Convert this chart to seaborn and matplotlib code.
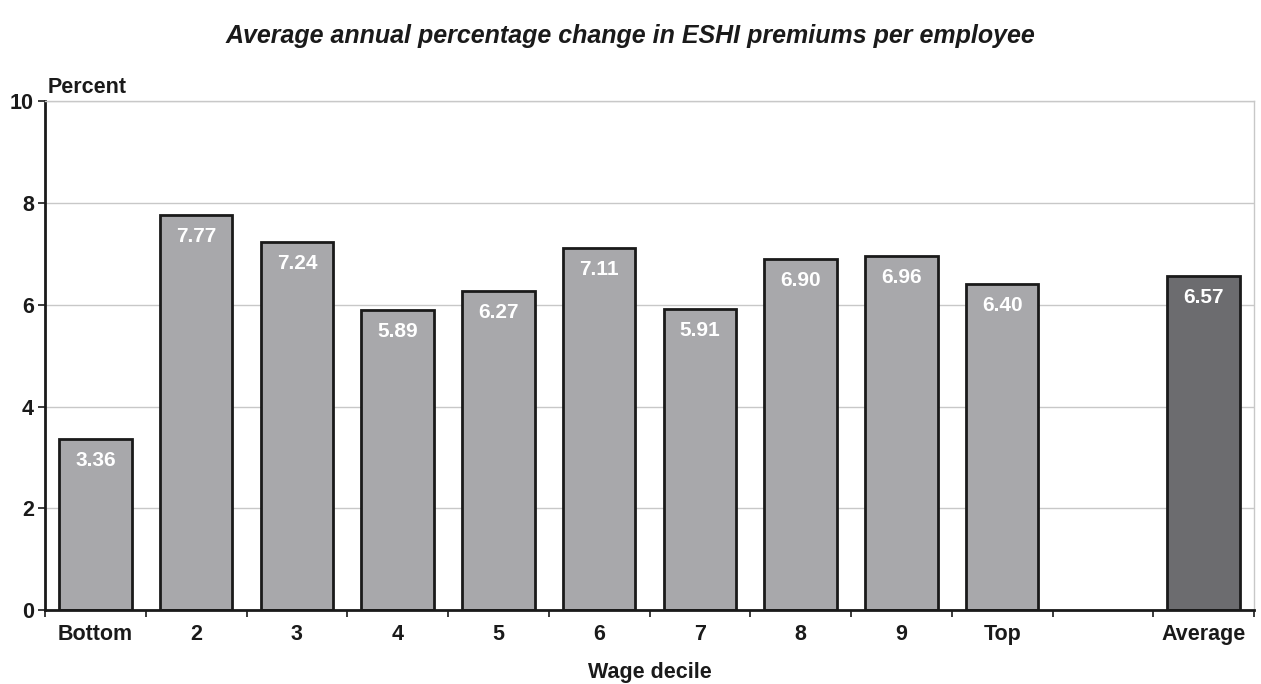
import numpy as np
import pandas as pd
import matplotlib
matplotlib.use('Agg')
import matplotlib.pyplot as plt
import seaborn as sns

# Data
deciles = ['Bottom', '2', '3', '4', '5', '6', '7', '8', '9', 'Top', ' ', 'Average']
premium_change = [3.36, 7.77, 7.24, 5.89, 6.27, 7.11, 5.91, 6.90, 6.96, 6.40, np.nan, 6.57]
bar_colors = ['#a7a8ac'] * 10 + ['#ffffff', '#6b6c70']

df = pd.DataFrame({'decile': deciles, 'change': premium_change})

sns.set_style('white')
plt.rcParams['font.family'] = ['Liberation Sans', 'DejaVu Sans']
plt.rcParams['text.color'] = '#1a1a1a'
plt.rcParams['xtick.color'] = '#1a1a1a'
plt.rcParams['ytick.color'] = '#1a1a1a'
plt.rcParams['axes.labelcolor'] = '#1a1a1a'

fig = plt.figure(figsize=(12.61, 6.84), dpi=100)
ax = fig.add_axes([0.0357, 0.108, 0.9588, 0.744])

sns.barplot(data=df, x='decile', y='change', hue='decile', order=deciles,
            palette=dict(zip(deciles, bar_colors)), legend=False,
            width=0.72, edgecolor='#1a1a1a', linewidth=2, ax=ax)

# value labels inside the bars
for i, v in enumerate(premium_change):
    if np.isnan(v):
        continue
    ax.annotate(f'{v:.2f}', (i, v), xytext=(0, -15.5), textcoords='offset points',
                ha='center', va='center', color='white', fontsize=15, fontweight='bold')

ax.set_ylim(0, 10)
ax.set_xlim(-0.5, len(deciles) - 0.5)
ax.set_yticks([0, 2, 4, 6, 8, 10])
ax.yaxis.grid(True, color='#c8c8c8', linewidth=1)
ax.set_axisbelow(True)

ax.tick_params(axis='x', which='major', bottom=False, length=0, labelsize=15.5, pad=10)
ax.set_xticks(np.arange(-0.5, len(deciles)), minor=True)
ax.tick_params(axis='x', which='minor', bottom=True, length=5, width=1.2, direction='out')
ax.tick_params(axis='y', left=True, length=5, width=1.2, direction='out', labelsize=15.5, pad=3)
for lbl in ax.get_xticklabels() + ax.get_yticklabels():
    lbl.set_fontweight('bold')

for s in ['left', 'bottom']:
    ax.spines[s].set_color('#1a1a1a')
    ax.spines[s].set_linewidth(2)
for s in ['top', 'right']:
    ax.spines[s].set_color('#c8c8c8')
    ax.spines[s].set_linewidth(1)

ax.set_xlabel('Wage decile', fontsize=15.5, fontweight='bold', labelpad=12)
ax.set_ylabel('')
ax.text(0.002, 1.006, 'Percent', transform=ax.transAxes, fontsize=15.5,
        fontweight='bold', ha='left', va='bottom')

fig.suptitle('Average annual percentage change in ESHI premiums per employee',
             x=0.5, y=0.965, fontsize=18, fontweight='bold', fontstyle='italic')

fig.savefig('out.png', dpi=100)
